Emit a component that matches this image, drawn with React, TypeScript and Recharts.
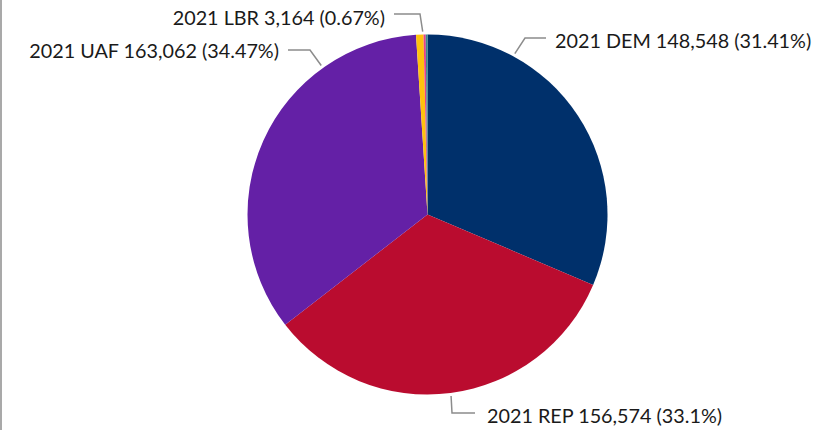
import { PieChart, Pie, Cell } from 'recharts';

const parties = ['2021 DEM', '2021 REP', '2021 UAF', '2021 LBR', 'Other A', 'Other B'];
const votes = [148548, 156574, 163062, 3164, 900, 752];
const sliceColors = ['#00306B', '#BA0C2F', '#6420A6', '#FFC20E', '#E8418C', '#3E8A8A'];

// leader line + text placement for the labelled slices (angle in degrees, where the leader leaves the pie)
const labelLayout: Record<string, { angle: number; pts: [number, number][]; tx: number; ty: number; anchor: 'start' | 'end' }> = {
  '2021 DEM': { angle: 61.5, pts: [[525, 38], [546, 38]], tx: 555, ty: 40, anchor: 'start' },
  '2021 REP': { angle: -82.6, pts: [[452, 413], [475, 413]], tx: 487, ty: 415, anchor: 'start' },
  '2021 UAF': { angle: 125.5, pts: [[310, 50], [288, 50]], tx: 279, ty: 50, anchor: 'end' },
  '2021 LBR': { angle: 91.5, pts: [[420, 14], [394, 14]], tx: 385, ty: 17, anchor: 'end' },
};

const data = parties.map((name, i) => ({ name, value: votes[i] }));

const fmtPct = (p: number) => String(parseFloat((p * 100).toFixed(2)));

function renderLabel(props: any) {
  const { cx, cy, outerRadius, name, value, percent } = props;
  const lay = labelLayout[name];
  if (!lay) return null;
  const rad = (lay.angle * Math.PI) / 180;
  const sx = cx + (outerRadius + 3) * Math.cos(rad);
  const sy = cy - (outerRadius + 3) * Math.sin(rad);
  const pts = [[sx, sy], ...lay.pts].map((p) => p.join(',')).join(' ');
  return (
    <g>
      <polyline points={pts} fill="none" stroke="#8c8c8c" strokeWidth={1.5} />
      <text
        x={lay.tx}
        y={lay.ty}
        textAnchor={lay.anchor}
        dominantBaseline="central"
        fill="#1a1a1a"
        fontSize={19.8}
        fontFamily="Lato, sans-serif"
      >
        {`${name} ${value.toLocaleString('en-US')} (${fmtPct(percent)}%)`}
      </text>
    </g>
  );
}

export default function App() {
  return (
    <div style={{ position: 'absolute', left: 0, top: 0, width: 837, height: 430, background: '#fff' }}>
      <div style={{ position: 'absolute', left: 0, top: 0, width: 2, height: 430, background: '#a9a9a9' }} />
      <PieChart width={837} height={430}>
        <Pie
          data={data}
          dataKey="value"
          nameKey="name"
          cx={422.5}
          cy={209.5}
          outerRadius={180}
          startAngle={90}
          endAngle={-270}
          stroke="none"
          label={renderLabel}
          labelLine={false}
          isAnimationActive={false}
        >
          {data.map((d, i) => (
            <Cell key={d.name} fill={sliceColors[i]} />
          ))}
        </Pie>
      </PieChart>
    </div>
  );
}
